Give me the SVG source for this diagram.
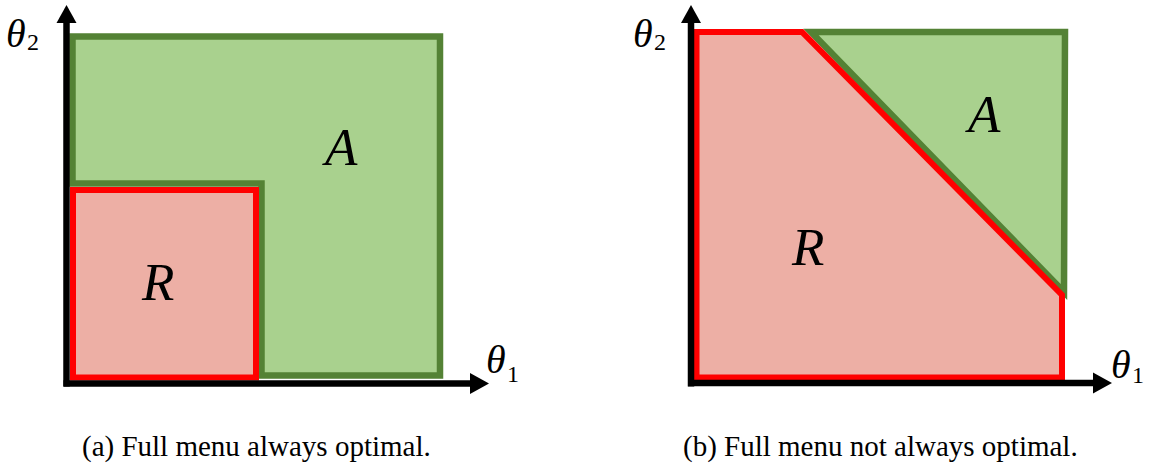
<svg xmlns="http://www.w3.org/2000/svg" width="1156" height="465" viewBox="0 0 1156 465">
<style>
.acc{fill:#A9D18E;stroke:#548235;stroke-width:6.5;stroke-linejoin:miter}
.rej{fill:#EDAFA5;stroke:#FF0000;stroke-width:6;stroke-linejoin:miter}
.ax{stroke:#000;stroke-width:6.5;fill:none}
.ah{fill:#000}
</style>
<rect width="1156" height="465" fill="#fff"/>
<g id="panel-a">
  <g id="region-A-left"><polygon class="acc" points="72.5,36.5 440,36.5 440,375.5 261.5,375.5 261.5,183.5 72.5,183.5"/></g>
  <g id="region-R-left"><rect class="rej" x="73" y="190" width="183" height="187.5"/></g>
  <g id="axes-left">
    <line class="ax" x1="66.5" y1="386.5" x2="66.5" y2="22"/>
    <polygon class="ah" points="66.5,5 56.5,23 76.5,23"/>
    <line class="ax" x1="63.5" y1="383.5" x2="471" y2="383.5"/>
    <polygon class="ah" points="489,383.5 470,373 470,394"/>
  </g>
  <g font-family="'Liberation Serif', 'DejaVu Serif', serif" fill="#000">
    <text font-style="italic" x="6" y="47" font-size="40">θ</text><text x="27" y="50" font-size="24">2</text>
    <text font-style="italic" x="486" y="373" font-size="40">θ</text><text x="507" y="382" font-size="24">1</text>
    <text font-style="italic" x="325" y="165" font-size="53">A</text>
    <text font-style="italic" x="142" y="300" font-size="53">R</text>
    <text x="82" y="456" font-size="29">(a) Full menu always optimal.</text>
  </g>
</g>
<g id="panel-b">
  <g id="region-A-right"><polygon class="acc" points="811,32 1065,32 1064,292"/></g>
  <g id="region-R-right"><polygon class="rej" points="696.5,32 802,32 1062,295 1062,377.5 696.5,377.5"/></g>
  <g id="axes-right">
    <line class="ax" x1="691" y1="386.5" x2="691" y2="22"/>
    <polygon class="ah" points="691,5 681,23 701,23"/>
    <line class="ax" x1="688" y1="383" x2="1094" y2="383"/>
    <polygon class="ah" points="1112,383 1093,372.5 1093,393.5"/>
  </g>
  <g font-family="'Liberation Serif', 'DejaVu Serif', serif" fill="#000">
    <text font-style="italic" x="633" y="47" font-size="40">θ</text><text x="654" y="50" font-size="24">2</text>
    <text font-style="italic" x="1111" y="378" font-size="40">θ</text><text x="1132" y="383" font-size="24">1</text>
    <text font-style="italic" x="968" y="132" font-size="53">A</text>
    <text font-style="italic" x="792" y="265" font-size="53">R</text>
    <text x="683" y="456" font-size="29">(b) Full menu not always optimal.</text>
  </g>
</g>
</svg>
